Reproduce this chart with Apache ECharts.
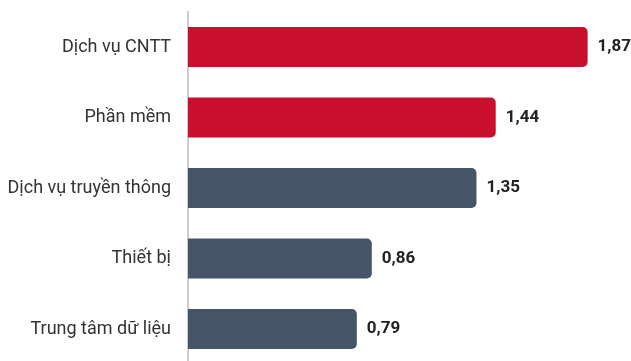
<!DOCTYPE html>
<html>
<head>
<meta charset="utf-8">
<script src="https://cdn.jsdelivr.net/npm/echarts@6/dist/echarts.min.js"></script>
<style>
html,body{margin:0;padding:0;background:#fff;}
#chart{width:631px;height:361px;}
</style>
</head>
<body>
<div id="chart"></div>
<script>
const categories = ["Dịch vụ CNTT", "Phần mềm", "Dịch vụ truyền thông", "Thiết bị", "Trung tâm dữ liệu"];
const values = [1.87, 1.44, 1.35, 0.86, 0.79];
const barColors = ["#C8102E", "#C8102E", "#475569", "#475569", "#475569"];

const chart = echarts.init(document.getElementById('chart'), null, {renderer: 'canvas'});
chart.setOption({
  animation: false,
  grid: {left: 188, top: 11.75, width: 427.4, height: 352.5, outerBoundsMode: 'none', containLabel: false},
  xAxis: {
    type: 'value', min: 0, max: 2,
    show: false
  },
  yAxis: {
    type: 'category', data: categories, inverse: true,
    axisLine: {show: true, lineStyle: {color: '#cccccc', width: 2}},
    axisTick: {show: false},
    splitLine: {show: false},
    axisLabel: {color: '#333333', fontSize: 18, fontFamily: 'Roboto', margin: 17}
  },
  series: [{
    type: 'bar',
    barWidth: 40,
    data: values.map((v, i) => ({value: v, itemStyle: {color: barColors[i]}})),
    itemStyle: {borderRadius: [0, 5, 5, 0]},
    label: {
      show: true, position: 'right', distance: 10,
      color: '#222222', fontSize: 17, fontWeight: 'bold', fontFamily: 'Roboto',
      formatter: p => p.value.toFixed(2).replace('.', ',')
    }
  }]
});
</script>
</body>
</html>
